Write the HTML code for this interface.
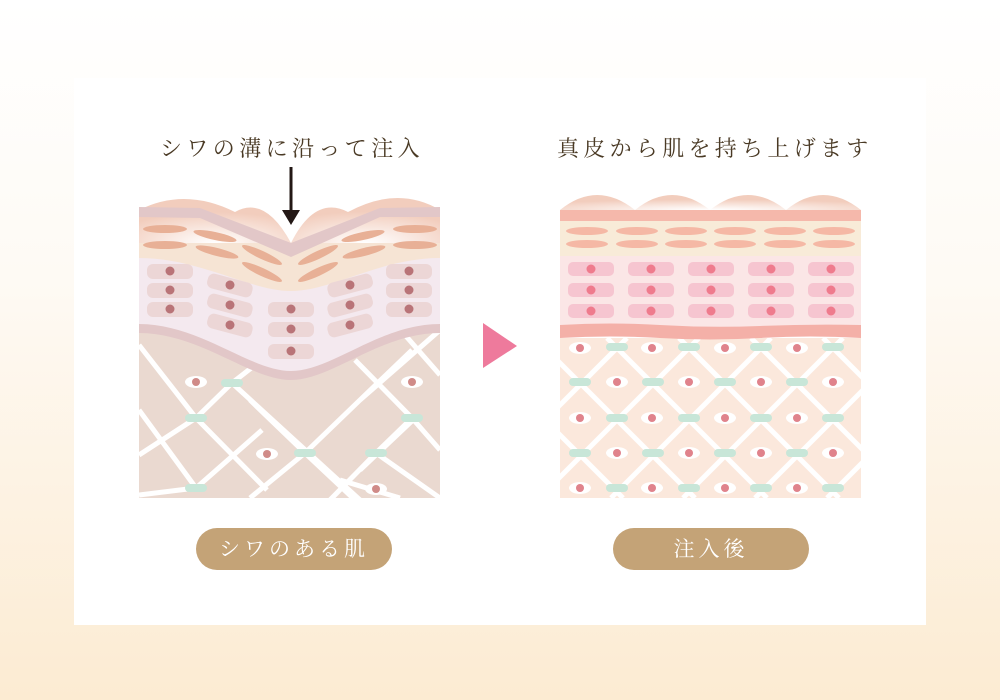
<!DOCTYPE html>
<html><head><meta charset="utf-8"><style>
html,body{margin:0;padding:0}
body{width:1000px;height:700px;background:linear-gradient(#ffffff 0%,#fefaf4 40%,#fcebd2 100%);position:relative;overflow:hidden;font-family:"Liberation Serif","Noto Serif CJK SC",serif}
.panel{position:absolute;left:74px;top:78px;width:852px;height:547px;background:#fff}
.t{position:absolute;color:#4a3a25;font-size:22px;white-space:nowrap}
.pill{position:absolute;top:528px;width:196px;height:42px;border-radius:21px;background:#c4a377;color:#fff;font-size:21px;text-align:center;line-height:42px;letter-spacing:4px}
svg{position:absolute;left:0;top:0}
</style></head><body>
<div class="panel"></div>
<div class="t" style="left:160px;top:132px;letter-spacing:4.4px">シワの溝に沿って注入</div>
<div class="t" style="left:557px;top:132px;letter-spacing:4.3px">真皮から肌を持ち上げます</div>
<div class="pill" style="left:196px">シワのある肌</div>
<div class="pill" style="left:613px">注入後</div>
<svg width="1000" height="700" viewBox="0 0 1000 700">
<defs>
<radialGradient id="dome" cx="0.5" cy="1" r="0.7"><stop offset="0" stop-color="#fff"/><stop offset="1" stop-color="#f2cdbd"/></radialGradient>
<g id="eye"><ellipse cx="0" cy="0" rx="11" ry="6" fill="#fff"/><circle r="4" fill="#e0838c"/></g>
<g id="eyeL"><ellipse cx="0" cy="0" rx="11" ry="6" fill="#fff"/><circle r="4" fill="#d08b88"/></g>
<rect id="gr" x="-11" y="-4" width="22" height="8" rx="4" fill="#c8e6d8"/>
<g id="cellR"><rect x="-23" y="-7" width="46" height="14" rx="5" fill="#f6c5d0"/><circle r="4.5" fill="#ef7b8d"/></g>
<g id="cellL"><rect x="-23" y="-7" width="46" height="15" rx="6" fill="#ecd6d6"/><circle r="4.5" fill="#b97478"/></g>
<ellipse id="fibR" rx="21" ry="4" fill="#f5b8a5"/>
<ellipse id="fibL" rx="22" ry="4" fill="#e8b096"/>
<clipPath id="cR"><rect x="560" y="338" width="301" height="160"/></clipPath>
<clipPath id="cL"><rect x="139" y="190" width="301" height="308"/></clipPath>
</defs>

<rect x="289.5" y="167" width="3" height="46" fill="#231815"/>
<path d="M282,210 L300,210 L291,225 Z" fill="#231815"/>
<path d="M483,323 L517,346 L483,368 Z" fill="#ee7a9c"/>

<!-- RIGHT -->
<g>
<path d="M560,210 Q597,180 635,210 Q672,180 710,210 Q748,180 786,210 Q823,180 861,210 Z" fill="url(#dome)"/>
<rect x="560" y="210" width="301" height="11" fill="#f5b8ab"/>
<rect x="560" y="221" width="301" height="35" fill="#f8ebd8"/>
<g>
<use href="#fibR" x="587" y="231"/><use href="#fibR" x="637" y="231"/><use href="#fibR" x="686" y="231"/><use href="#fibR" x="735" y="231"/><use href="#fibR" x="785" y="231"/><use href="#fibR" x="834" y="231"/>
<use href="#fibR" x="587" y="244"/><use href="#fibR" x="637" y="244"/><use href="#fibR" x="686" y="244"/><use href="#fibR" x="735" y="244"/><use href="#fibR" x="785" y="244"/><use href="#fibR" x="834" y="244"/>
</g>
<rect x="560" y="256" width="301" height="72" fill="#fbe6e6"/>
<g>
<use href="#cellR" x="591" y="269"/><use href="#cellR" x="651" y="269"/><use href="#cellR" x="711" y="269"/><use href="#cellR" x="771" y="269"/><use href="#cellR" x="831" y="269"/>
<use href="#cellR" x="591" y="290"/><use href="#cellR" x="651" y="290"/><use href="#cellR" x="711" y="290"/><use href="#cellR" x="771" y="290"/><use href="#cellR" x="831" y="290"/>
<use href="#cellR" x="591" y="311"/><use href="#cellR" x="651" y="311"/><use href="#cellR" x="711" y="311"/><use href="#cellR" x="771" y="311"/><use href="#cellR" x="831" y="311"/>
</g>
<rect x="560" y="338" width="301" height="160" fill="#fbe8dc"/>
<g clip-path="url(#cR)" stroke="#fff" stroke-width="5" fill="none">
<path d="M555,338 L395,498 M627,338 L467,498 M699,338 L539,498 M771,338 L611,498 M843,338 L683,498 M915,338 L755,498 M987,338 L827,498 M1059,338 L899,498"/>
<path d="M391,338 L551,498 M463,338 L623,498 M535,338 L695,498 M607,338 L767,498 M679,338 L839,498 M751,338 L911,498 M823,338 L983,498 M895,338 L1055,498"/>
</g>
<path d="M560,325 Q610,322 660,325 T760,326 T861,325 L861,338 Q810,335 760,338 T660,338 T560,338 Z" fill="#f4b0a8"/>
<g>
<use href="#eye" x="580" y="348"/><use href="#eye" x="652" y="348"/><use href="#eye" x="725" y="348"/><use href="#eye" x="797" y="348"/>
<use href="#gr" x="617" y="347"/><use href="#gr" x="689" y="347"/><use href="#gr" x="761" y="347"/><use href="#gr" x="833" y="347"/>
<use href="#gr" x="580" y="382"/><use href="#gr" x="653" y="382"/><use href="#gr" x="725" y="382"/><use href="#gr" x="797" y="382"/>
<use href="#eye" x="617" y="382"/><use href="#eye" x="689" y="382"/><use href="#eye" x="761" y="382"/><use href="#eye" x="833" y="382"/>
<use href="#eye" x="580" y="418"/><use href="#eye" x="652" y="418"/><use href="#eye" x="725" y="418"/><use href="#eye" x="797" y="418"/>
<use href="#gr" x="617" y="418"/><use href="#gr" x="689" y="418"/><use href="#gr" x="761" y="418"/><use href="#gr" x="833" y="418"/>
<use href="#gr" x="580" y="453"/><use href="#gr" x="653" y="453"/><use href="#gr" x="725" y="453"/><use href="#gr" x="797" y="453"/>
<use href="#eye" x="617" y="453"/><use href="#eye" x="689" y="453"/><use href="#eye" x="761" y="453"/><use href="#eye" x="833" y="453"/>
<use href="#eye" x="580" y="488"/><use href="#eye" x="652" y="488"/><use href="#eye" x="725" y="488"/><use href="#eye" x="797" y="488"/>
<use href="#gr" x="617" y="488"/><use href="#gr" x="689" y="488"/><use href="#gr" x="761" y="488"/><use href="#gr" x="833" y="488"/>
</g>
</g>

<!-- LEFT -->
<g clip-path="url(#cL)">
<rect x="139" y="300" width="301" height="198" fill="#ead9d0"/>
<g stroke="#fff" stroke-width="5" fill="none">
<path d="M139,345 L196,418 L232,383 L300,330 M139,455 L196,418 L267,490 M139,410 L196,488 M196,488 L262,430 M139,495 L196,488 M232,383 L360,500 M232,383 L196,418 M360,470 L415,418 M305,453 L250,498 M305,453 L355,500 M305,453 L360,400 L412,350 M360,400 L440,330 M412,418 L440,450 M412,418 L376,453 L330,500 M376,453 L440,498 M412,418 L355,360 M405,335 L440,375 M305,453 L250,400 M340,480 L400,498"/>
</g>
<path d="M139,315 C200,315 250,368 291,368 C332,368 380,315 440,315 L440,333 C380,333 332,380 291,380 C250,380 200,333 139,333 Z" fill="#e2c7c8"/>
<path d="M139,255 C200,255 250,290 291,290 C332,290 380,255 440,255 L440,324 C380,324 332,371 291,371 C250,371 200,324 139,324 Z" fill="#f4e9ef"/>
<path d="M139,216 L200,217 L291,256 L380,216 L440,216 L440,258 C380,258 332,291 291,291 C250,291 200,258 139,258 Z" fill="#f6e4d4"/>
<path d="M139,210 Q185,187 235,212 Q265,195 291,243 L139,243 Z" fill="url(#dome)"/>
<path d="M440,210 Q398,185 348,212 Q315,195 291,243 L440,243 Z" fill="url(#dome)"/>
<path d="M139,207 L200,208 L291,243 L380,208 L440,207 L440,217 L380,217 L291,257 L200,218 L139,217 Z" fill="#e2c7c8"/>
<use href="#fibL" x="165" y="229"/><use href="#fibL" x="165" y="245"/>
<use href="#fibL" x="415" y="229"/><use href="#fibL" x="415" y="245"/>
<g transform="translate(215,236) rotate(12)"><use href="#fibL"/></g>
<g transform="translate(217,252) rotate(14)"><use href="#fibL"/></g>
<g transform="translate(262,255) rotate(25)"><use href="#fibL"/></g>
<g transform="translate(262,272) rotate(25)"><use href="#fibL"/></g>
<g transform="translate(363,236) rotate(-12)"><use href="#fibL"/></g>
<g transform="translate(364,252) rotate(-14)"><use href="#fibL"/></g>
<g transform="translate(318,255) rotate(-25)"><use href="#fibL"/></g>
<g transform="translate(318,272) rotate(-25)"><use href="#fibL"/></g>
<use href="#cellL" x="170" y="271"/><use href="#cellL" x="170" y="290"/><use href="#cellL" x="170" y="309"/>
<use href="#cellL" x="409" y="271"/><use href="#cellL" x="409" y="290"/><use href="#cellL" x="409" y="309"/>
<g transform="translate(230,285) rotate(15)"><use href="#cellL"/></g>
<g transform="translate(230,305) rotate(15)"><use href="#cellL"/></g>
<g transform="translate(230,325) rotate(15)"><use href="#cellL"/></g>
<g transform="translate(350,285) rotate(-15)"><use href="#cellL"/></g>
<g transform="translate(350,305) rotate(-15)"><use href="#cellL"/></g>
<g transform="translate(350,325) rotate(-15)"><use href="#cellL"/></g>
<use href="#cellL" x="291" y="309"/><use href="#cellL" x="291" y="329"/><use href="#cellL" x="291" y="351"/>
<use href="#eyeL" x="196" y="382"/><use href="#eyeL" x="412" y="382"/><use href="#eyeL" x="267" y="454"/><use href="#eyeL" x="376" y="489"/>
<use href="#gr" x="232" y="383"/><use href="#gr" x="196" y="418"/><use href="#gr" x="412" y="418"/><use href="#gr" x="305" y="453"/><use href="#gr" x="376" y="453"/><use href="#gr" x="196" y="488"/>
</g>
</svg>
</body></html>
